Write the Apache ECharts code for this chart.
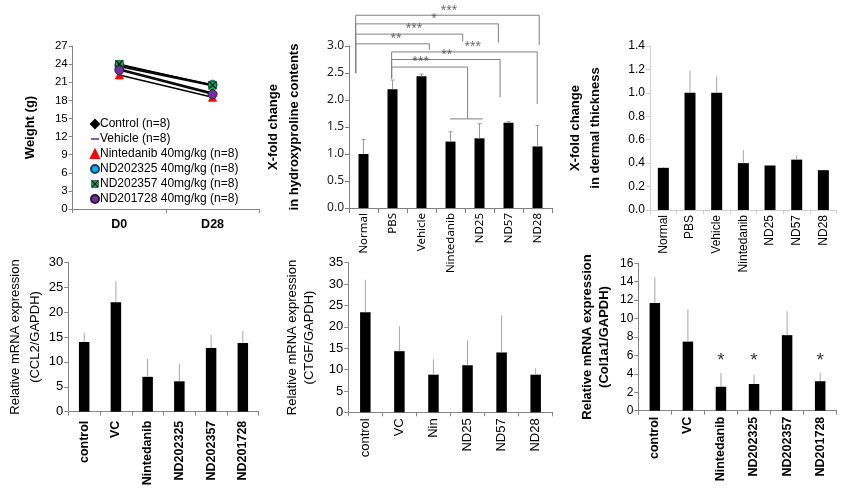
<!DOCTYPE html>
<html><head><meta charset="utf-8">
<script src="https://cdn.jsdelivr.net/npm/echarts@6/dist/echarts.min.js"></script>
<style>html,body{margin:0;padding:0;background:#fff}#c{width:841px;height:498px}</style>
</head><body><div id="c"></div>
<script>
// ---- Panel A: body weight ----
const weightDays = ['D0', 'D28'];
const weightTicks = [0, 3, 6, 9, 12, 15, 18, 21, 24, 27];
const weightGroups = ['Control (n=8)', 'Vehicle (n=8)', 'Nintedanib 40mg/kg (n=8)', 'ND202325 40mg/kg (n=8)', 'ND202357 40mg/kg (n=8)', 'ND201728 40mg/kg (n=8)'];
const weightControl = [23.2, 19.2];
const weightVehicle = [23.6, 20.4];
const weightNintedanib = [22.2, 18.5];
const weightND202325 = [23.8, 20.6];
const weightND202357 = [24.0, 20.5];
const weightND201728 = [23.0, 19.0];

// ---- Panel B: hydroxyproline ----
const hypCats = ['Normal', 'PBS', 'Vehicle', 'Nintedanib', 'ND25', 'ND57', 'ND28'];
const hypMean = [1.00, 2.20, 2.44, 1.23, 1.29, 1.58, 1.14];
const hypErr = [0.27, 0.17, 0.04, 0.18, 0.27, 0.02, 0.39];
// significance brackets: polylines in (category-position, value) units
const hypBrackets = [
  [[0.23, 2.5], [0.23, 3.57], [6.56, 3.57], [6.56, 3.02]],
  [[0.23, 2.5], [0.23, 3.41], [5.15, 3.41], [5.15, 3.06]],
  [[0.23, 2.5], [0.23, 3.22], [3.92, 3.22], [3.92, 3.08]],
  [[0.23, 2.5], [0.23, 3.04], [2.77, 3.04], [2.77, 2.93]],
  [[1.47, 2.40], [1.47, 2.89], [6.49, 2.89], [6.49, 1.93]],
  [[1.47, 2.40], [1.47, 2.75], [5.21, 2.75], [5.21, 2.05]],
  [[1.47, 2.40], [1.47, 2.61], [4.09, 2.61], [4.09, 1.65]],
  [[3.48, 1.65], [4.61, 1.65]]
];
const hypStars = [[3.45, 3.57, '***'], [2.93, 3.41, '*'], [2.24, 3.22, '***'], [1.62, 3.04, '**'],
                  [4.27, 2.89, '***'], [3.37, 2.75, '**'], [2.47, 2.61, '***']];

// ---- Panel C: dermal thickness ----
const dermCats = ['Normal', 'PBS', 'Vehicle', 'Nintedanib', 'ND25', 'ND57', 'ND28'];
const dermMean = [0.36, 1.00, 1.00, 0.40, 0.38, 0.43, 0.34];
const dermErr = [0.01, 0.19, 0.14, 0.11, 0.00, 0.04, 0.00];

// ---- Panel D: CCL2 ----
const ccl2Cats = ['control', 'VC', 'Nintedanib', 'ND202325', 'ND202357', 'ND201728'];
const ccl2Mean = [14.0, 22.0, 7.0, 6.1, 12.8, 13.8];
const ccl2Err = [1.8, 4.2, 3.6, 3.5, 2.6, 2.4];

// ---- Panel E: CTGF ----
const ctgfCats = ['control', 'VC', 'Nin', 'ND25', 'ND57', 'ND28'];
const ctgfMean = [23.4, 14.3, 8.8, 11.0, 14.0, 8.8];
const ctgfErr = [7.6, 5.8, 3.6, 5.8, 8.7, 1.5];

// ---- Panel F: Col1a1 ----
const colCats = ['control', 'VC', 'Nintedanib', 'ND202325', 'ND202357', 'ND201728'];
const colMean = [11.7, 7.5, 2.6, 2.9, 8.2, 3.2];
const colErr = [2.8, 3.5, 1.5, 1.0, 2.6, 0.9];
const colStars = ['', '', '*', '*', '', '*'];
const colStarLevel = 5.4;

// ================= build =================
const ARIAL = 'Liberation Sans, Arial, sans-serif';
const SEGOE = 'Noto Sans, Open Sans, sans-serif';

const xSvg = "<svg xmlns='http://www.w3.org/2000/svg' width='20' height='20'><rect x='1' y='1' width='18' height='18' fill='#00B050' stroke='#1a1a1a' stroke-width='1.2'/><path d='M3 3L17 17M17 3L3 17' stroke='#000' stroke-width='2.6'/></svg>";
const xIcon = 'image://data:image/svg+xml;charset=utf-8,' + encodeURIComponent(xSvg);

const markerDefs = [
  {symbol: 'diamond', size: 9, color: '#000', border: '#000'},
  {symbol: 'rect', size: [6, 2], color: '#7030A0', border: '#7030A0'},
  {symbol: 'triangle', size: 8, color: '#FF0000', border: '#FF0000'},
  {symbol: 'circle', size: 9, color: '#00B0F0', border: '#1f3b5a'},
  {symbol: xIcon, size: 9, color: '#00B050', border: '#000'},
  {symbol: 'circle', size: 9, color: '#7030A0', border: '#2a1040'}
];
const weightData = [weightControl, weightVehicle, weightNintedanib, weightND202325, weightND202357, weightND201728];

function errRender(color, cap) {
  return function (params, api) {
    const x = api.value(0), m = api.value(1), e = api.value(2);
    const p0 = api.coord([x, m]);
    const p1 = api.coord([x, m + e]);
    const ch = [{type: 'line', shape: {x1: p0[0], y1: p0[1], x2: p1[0], y2: p1[1]}, style: {stroke: color, lineWidth: 1}}];
    if (cap) ch.push({type: 'line', shape: {x1: p1[0] - cap, y1: p1[1], x2: p1[0] + cap, y2: p1[1]}, style: {stroke: color, lineWidth: 1}});
    return {type: 'group', children: ch};
  };
}

const grids = [
  {left: 72.7, top: 46, width: 186.5, height: 163},
  {left: 349, top: 46, width: 203, height: 162},
  {left: 650, top: 46, width: 186.7, height: 164},
  {left: 68.3, top: 262.3, width: 190.4, height: 149.4},
  {left: 348.3, top: 262.7, width: 204.4, height: 149.6},
  {left: 638.3, top: 263.3, width: 198.4, height: 147.4}
];

function catAxis(gi, cats, o) {
  return {
    type: 'category', gridIndex: gi, data: cats, boundaryGap: true,
    axisLine: {lineStyle: {color: o.lineColor, width: 1}},
    axisTick: {show: true, alignWithLabel: false, interval: 0, length: o.tickLen || 4, lineStyle: {color: o.lineColor}},
    axisLabel: {interval: 0, rotate: o.rotate || 0, margin: o.margin, color: '#000', fontFamily: o.font, fontSize: o.fontSize, fontWeight: o.bold ? 'bold' : 'normal'}
  };
}
function valAxis(gi, o) {
  return {
    type: 'value', gridIndex: gi, min: o.min, max: o.max, interval: o.interval,
    name: o.name, nameLocation: 'middle', nameRotate: 90, nameGap: o.nameGap,
    nameTextStyle: {fontFamily: ARIAL, fontSize: 13, fontWeight: o.nameBold ? 'bold' : 'normal', color: '#000', lineHeight: o.lineHeight || 18},
    axisLine: {show: true, lineStyle: {color: o.lineColor, width: 1}},
    axisTick: {show: true, length: 4, lineStyle: {color: o.lineColor}},
    splitLine: {show: false},
    axisLabel: {color: o.labelColor || '#000', fontFamily: o.font, fontSize: o.fontSize, margin: o.labelMargin || 5,
      formatter: o.fmt || (v => String(v))}
  };
}

const xAxes = [
  catAxis(0, weightDays, {lineColor: '#868686', font: ARIAL, fontSize: 12.5, bold: true, margin: 9}),
  catAxis(1, hypCats, {lineColor: '#7f7f7f', font: SEGOE, fontSize: 11.5, rotate: 90, margin: 5, tickLen: 5}),
  catAxis(2, dermCats, {lineColor: '#d0d0d0', font: ARIAL, fontSize: 12, rotate: 90, margin: 5}),
  catAxis(3, ccl2Cats, {lineColor: '#868686', font: ARIAL, fontSize: 12.5, bold: true, rotate: 90, margin: 9}),
  catAxis(4, ctgfCats, {lineColor: '#868686', font: ARIAL, fontSize: 13, rotate: 90, margin: 6}),
  catAxis(5, colCats, {lineColor: '#868686', font: ARIAL, fontSize: 12.5, bold: true, rotate: 90, margin: 6}),
  {type: 'value', gridIndex: 1, min: 0, max: hypCats.length, show: false}
];
const yAxes = [
  valAxis(0, {min: 0, max: 27, interval: 3, name: 'Weight (g)', nameGap: 33, nameBold: true, lineColor: '#868686', font: ARIAL, fontSize: 11.5}),
  valAxis(1, {min: 0, max: 3.0, interval: 0.5, name: 'X-fold change\nin hydroxyproline contents', nameGap: 44, nameBold: true, lineHeight: 21, lineColor: '#7f7f7f', labelColor: '#222', font: SEGOE, fontSize: 12, fmt: v => v.toFixed(1)}),
  valAxis(2, {min: 0, max: 1.4, interval: 0.2, name: 'X-fold change\nin dermal thickness', nameGap: 45, nameBold: true, lineHeight: 20, lineColor: '#d0d0d0', font: ARIAL, fontSize: 12, fmt: v => v.toFixed(1)}),
  valAxis(3, {min: 0, max: 30, interval: 5, name: 'Relative mRNA expression\n(CCL2/GAPDH)', nameGap: 21, lineHeight: 20, lineColor: '#868686', font: ARIAL, fontSize: 13}),
  valAxis(4, {min: 0, max: 35, interval: 5, name: 'Relative mRNA expression\n(CTGF/GAPDH)', nameGap: 30, lineHeight: 17, lineColor: '#868686', font: ARIAL, fontSize: 13}),
  valAxis(5, {min: 0, max: 16, interval: 2, name: 'Relative mRNA expression\n(Col1a1/GAPDH)', nameGap: 25, nameBold: true, lineHeight: 17, lineColor: '#868686', font: ARIAL, fontSize: 12})
];

const series = [];
// Panel A lines
weightGroups.forEach((name, i) => {
  const m = markerDefs[i];
  series.push({
    name: name, type: 'line', xAxisIndex: 0, yAxisIndex: 0, data: weightData[i],
    symbol: m.symbol, symbolSize: m.size, showAllSymbol: true,
    lineStyle: {color: '#000', width: 1.5},
    itemStyle: {color: m.color, borderColor: m.border, borderWidth: m.symbol === 'rect' ? 0 : 0.8},
    z: 3 + i
  });
});

function barSet(xi, yi, cats, mean, err, width, errColor, cap) {
  series.push({type: 'bar', xAxisIndex: xi, yAxisIndex: yi, data: mean, barWidth: width,
    itemStyle: {color: '#000'}, z: 2});
  series.push({type: 'custom', xAxisIndex: xi, yAxisIndex: yi, renderItem: errRender(errColor, cap),
    data: mean.map((v, i) => [i, v, err[i]]), z: 3, clip: false});
}
barSet(1, 1, hypCats, hypMean, hypErr, 10, '#9a9a9a', 2);
barSet(2, 2, dermCats, dermMean, dermErr, 11, '#a6a6a6', 0);
barSet(3, 3, ccl2Cats, ccl2Mean, ccl2Err, 10.5, '#a6a6a6', 0);
barSet(4, 4, ctgfCats, ctgfMean, ctgfErr, 10.5, '#a6a6a6', 0);
barSet(5, 5, colCats, colMean, colErr, 10.5, '#a6a6a6', 0);

// Panel B brackets
hypBrackets.forEach(b => {
  series.push({type: 'line', xAxisIndex: 6, yAxisIndex: 1, data: b, symbol: 'none', clip: false,
    lineStyle: {color: '#808080', width: 1}, silent: true, z: 4});
});
series.push({type: 'scatter', xAxisIndex: 6, yAxisIndex: 1, data: hypStars, symbolSize: 1, clip: false,
  itemStyle: {color: 'rgba(0,0,0,0)'}, silent: true, z: 5,
  label: {show: true, position: 'top', distance: 0, formatter: p => p.value[2], color: '#404040', fontFamily: SEGOE, fontSize: 10}});

// Panel F stars
series.push({type: 'scatter', xAxisIndex: 5, yAxisIndex: 5,
  data: colStars.map((s, i) => s ? [i, colStarLevel, s] : null).filter(d => d),
  symbolSize: 1, itemStyle: {color: 'rgba(0,0,0,0)'}, silent: true,
  label: {show: true, position: 'inside', formatter: p => p.value[2], color: '#000', fontFamily: ARIAL, fontSize: 19}});

const chart = echarts.init(document.getElementById('c'), null, {renderer: 'canvas'});
chart.setOption({
  animation: false,
  backgroundColor: '#fff',
  grid: grids,
  xAxis: xAxes,
  yAxis: yAxes,
  legend: {
    orient: 'vertical', left: 85, top: 112, itemGap: 1, itemWidth: 8, itemHeight: 8,
    textStyle: {fontFamily: ARIAL, fontSize: 12, color: '#000', lineHeight: 14, padding: [0, 0, 0, -4]},
    data: weightGroups.map((n, i) => ({name: n, icon: markerDefs[i].symbol === 'rect' ? 'path://M0,4L10,4L10,6L0,6Z' : markerDefs[i].symbol})),
    selectedMode: false
  },
  series: series
});
</script>
</body></html>
